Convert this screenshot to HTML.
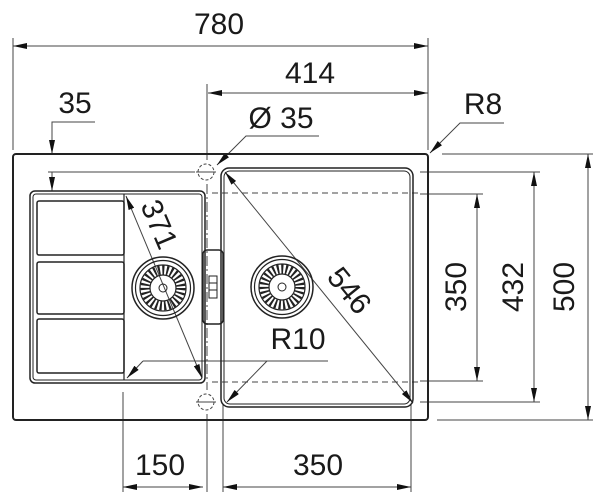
<!DOCTYPE html>
<html><head><meta charset="utf-8"><style>
html,body{margin:0;padding:0;background:#fff;}
svg{display:block;}
text{font-family:"Liberation Sans",Arial,sans-serif;font-size:30px;fill:#1a1a1a;}
</style></head><body>
<svg width="604" height="504" viewBox="0 0 604 504" xmlns="http://www.w3.org/2000/svg">
<defs>
<marker id="a" viewBox="0 0 14 6" refX="14" refY="3" markerWidth="14" markerHeight="6" markerUnits="userSpaceOnUse" orient="auto"><path d="M0,0 L14,3 L0,6 z" fill="#111"/></marker>
<marker id="s" viewBox="0 0 14 6" refX="0" refY="3" markerWidth="14" markerHeight="6" markerUnits="userSpaceOnUse" orient="auto"><path d="M14,0 L0,3 L14,6 z" fill="#111"/></marker>
</defs>
<g stroke="#444" stroke-width="1" fill="none">
<!-- extension lines -->
<line x1="13" y1="38" x2="13" y2="150"/>
<line x1="428" y1="38" x2="428" y2="150"/>
<line x1="207" y1="84" x2="207" y2="160"/>
<line x1="207" y1="184" x2="207" y2="390" stroke-dasharray="10,3,2,3"/>
<line x1="207" y1="414" x2="207" y2="492"/>
<line x1="123" y1="392" x2="123" y2="492"/>
<line x1="223" y1="405" x2="223" y2="492"/>
<line x1="411" y1="405" x2="411" y2="492"/>
<line x1="442" y1="154" x2="593" y2="154"/>
<line x1="437" y1="420" x2="593" y2="420"/>
<line x1="420" y1="172" x2="540" y2="172"/>
<line x1="420" y1="402" x2="540" y2="402"/>
<line x1="420" y1="194" x2="483" y2="194"/>
<line x1="420" y1="381" x2="483" y2="381"/>
<!-- dimension lines -->
<line x1="13" y1="46" x2="428" y2="46" marker-start="url(#s)" marker-end="url(#a)"/>
<line x1="208" y1="93" x2="428" y2="93" marker-start="url(#s)" marker-end="url(#a)"/>
<line x1="123" y1="487" x2="203" y2="487" marker-start="url(#s)" marker-end="url(#a)"/>
<line x1="223" y1="487" x2="411" y2="487" marker-start="url(#s)" marker-end="url(#a)"/>
<line x1="588" y1="154" x2="588" y2="420" marker-start="url(#s)" marker-end="url(#a)"/>
<line x1="534" y1="172" x2="534" y2="402" marker-start="url(#s)" marker-end="url(#a)"/>
<line x1="477" y1="194" x2="477" y2="381" marker-start="url(#s)" marker-end="url(#a)"/>
<!-- 35 -->
<polyline points="95,122 52,122 52,154" marker-end="url(#a)"/>
<line x1="52" y1="172" x2="52" y2="191" marker-end="url(#a)"/>
<line x1="48" y1="172" x2="195" y2="172"/>
<!-- Ø35 -->
<polyline points="319,136 246,136 217,165" marker-end="url(#a)"/>
<!-- R8 -->
<polyline points="504,123 460,123 430,153" marker-end="url(#a)"/>
<!-- diagonals -->
<line x1="126" y1="196" x2="202" y2="378" marker-start="url(#s)" marker-end="url(#a)"/>
<line x1="225" y1="172" x2="413" y2="403" marker-start="url(#s)" marker-end="url(#a)"/>
<!-- R10 -->
<line x1="143" y1="361" x2="328" y2="361"/>
<line x1="267" y1="361" x2="227" y2="402" marker-end="url(#a)"/>
<line x1="143" y1="361" x2="127" y2="378" marker-end="url(#a)"/>
<!-- dashed -->
<line x1="212" y1="193" x2="418" y2="193" stroke-dasharray="6,4"/>
<line x1="212" y1="382" x2="418" y2="382" stroke-dasharray="6,4"/>
<!-- holes -->
<circle cx="206" cy="172" r="8" stroke-dasharray="3,2"/>
<line x1="196" y1="172" x2="216" y2="172"/>
<circle cx="206" cy="402" r="8" stroke-dasharray="3,2"/>
<line x1="196" y1="402" x2="216" y2="402"/>
</g>
<g fill="none" stroke="#222">
<rect x="13" y="154" width="415" height="266" rx="3" stroke-width="2"/>
<rect x="30" y="191" width="175" height="192" rx="5" stroke-width="1.5"/>
<rect x="33" y="194" width="169" height="186" rx="3" stroke-width="1"/>
<line x1="124" y1="194" x2="124" y2="380" stroke-width="1.2"/>
<rect x="37" y="201" width="87" height="54" rx="2" stroke-width="1.5"/>
<rect x="37" y="262" width="87" height="52" rx="2" stroke-width="1.5"/>
<rect x="37" y="319" width="87" height="54" rx="2" stroke-width="1.5"/>
<rect x="221" y="168" width="192" height="239" rx="8" stroke-width="1.5"/>
<rect x="224" y="171" width="186" height="233" rx="6" stroke-width="1"/>
<rect x="203" y="250" width="20" height="74" rx="4" stroke-width="1.5"/>
<rect x="209" y="276" width="8" height="22" stroke-width="1"/>
<line x1="209" y1="283" x2="217" y2="283"/><line x1="209" y1="290" x2="217" y2="290"/>
</g>
<g fill="none" stroke="#222">
<circle cx="163" cy="288" r="31" stroke-width="1.5"/>
<circle cx="163" cy="288" r="27.5" stroke-width="1.2"/>
<circle cx="163" cy="288" r="18" stroke-width="9" stroke-dasharray="2,2.2"/>
<circle cx="163" cy="288" r="23" stroke-width="1.2"/>
<circle cx="163" cy="288" r="13" stroke-width="1.2"/>
<circle cx="163" cy="288" r="4" stroke-width="1"/>
<circle cx="282" cy="287" r="31" stroke-width="1.5"/>
<circle cx="282" cy="287" r="27.5" stroke-width="1.2"/>
<circle cx="282" cy="287" r="18" stroke-width="9" stroke-dasharray="2,2.2"/>
<circle cx="282" cy="287" r="23" stroke-width="1.2"/>
<circle cx="282" cy="287" r="13" stroke-width="1.2"/>
<circle cx="282" cy="287" r="4" stroke-width="1"/>
</g>
<text x="219" y="34" text-anchor="middle">780</text>
<text x="310" y="83" text-anchor="middle">414</text>
<text x="75" y="113" text-anchor="middle">35</text>
<text x="281" y="128" text-anchor="middle">Ø 35</text>
<text x="483" y="114" text-anchor="middle">R8</text>
<text x="298" y="349" text-anchor="middle">R10</text>
<text x="160" y="475" text-anchor="middle">150</text>
<text x="318" y="475" text-anchor="middle">350</text>
<text transform="translate(455,287) rotate(-90)" x="0" y="11" text-anchor="middle">350</text>
<text transform="translate(512,287) rotate(-90)" x="0" y="11" text-anchor="middle">432</text>
<text transform="translate(563,287) rotate(-90)" x="0" y="11" text-anchor="middle">500</text>
<text transform="translate(160,224) rotate(67)" x="0" y="11" text-anchor="middle">371</text>
<text transform="translate(350,290) rotate(51)" x="0" y="11" text-anchor="middle">546</text>
</svg>
</body></html>
